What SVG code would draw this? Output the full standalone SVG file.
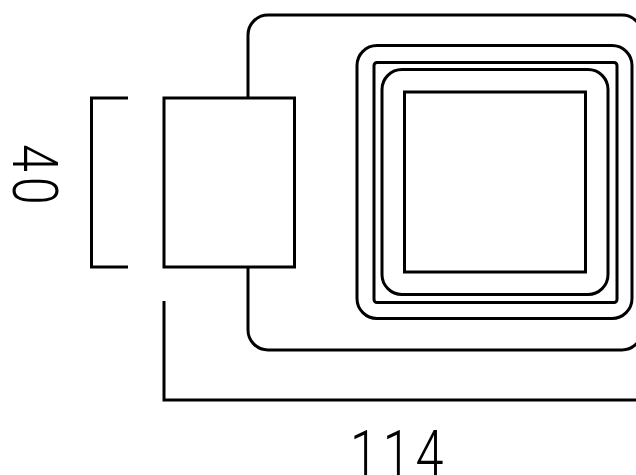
<svg xmlns="http://www.w3.org/2000/svg" width="636" height="475" viewBox="0 0 636 475">
<style>
.l{fill:none;stroke:#000;stroke-width:3}
.t{font-family:"Roboto","Liberation Sans",sans-serif;font-weight:300;font-size:63px;letter-spacing:6px;fill:#000}
</style>
<rect width="636" height="475" fill="#fff"/>
<g id="body"><path class="l" d="M248 98V35A20 20 0 0 1 268 15H622A20 20 0 0 1 642 35M248 267V330A20 20 0 0 0 268 350H622A20 20 0 0 0 642 330"/></g>
<g id="frame-outer"><rect class="l" x="357" y="45.500" width="275" height="273" rx="20"/></g>
<g id="frame-mid"><rect class="l" x="374" y="62.500" width="243" height="240" rx="3"/></g>
<g id="frame-inner"><rect class="l" x="382" y="69.500" width="226" height="225" rx="20"/></g>
<g id="window"><rect class="l" x="404.500" y="92" width="181" height="180"/></g>
<g id="block"><rect class="l" x="164" y="98" width="130.500" height="169"/></g>
<g id="connectors"><path class="l" d="M128 98H91.500V267H128"/><path class="l" d="M164 301V400H636"/></g>
<g id="label-114"><text class="t" transform="translate(350 475) scale(.8 1)">114</text></g>
<g id="label-40"><text class="t" transform="translate(12.500 144) rotate(90) scale(.8 1)">40</text></g>
</svg>
